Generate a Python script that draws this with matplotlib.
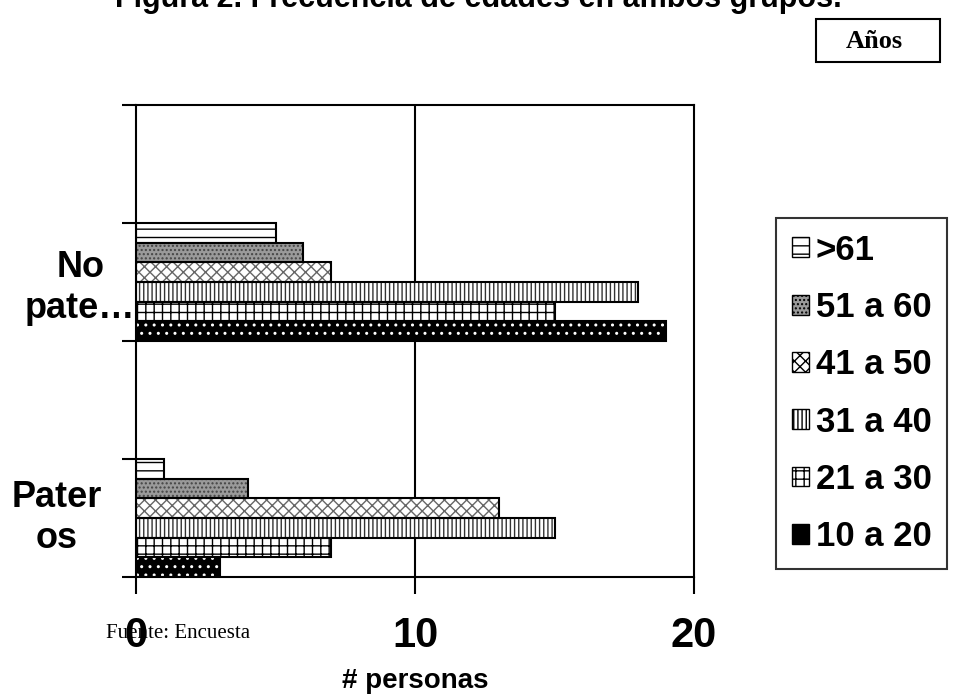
import matplotlib
matplotlib.use('Agg')
import matplotlib.pyplot as plt
from matplotlib.patches import Patch, Rectangle

plt.rcParams['font.family'] = ['Liberation Sans', 'DejaVu Sans']
plt.rcParams['hatch.linewidth'] = 1.0

groups = ['Pater\nos', 'No\npate…']
age_ranges = ['10 a 20', '21 a 30', '31 a 40', '41 a 50', '51 a 60', '>61']
counts_pateros = [3, 7, 15, 13, 4, 1]
counts_no_pateros = [19, 15, 18, 7, 6, 5]

# face colour, hatch colour, hatch pattern per age range
styles = [
    ('black', 'white', '..'),
    ('white', 'black', '++'),
    ('white', '#333333', '||||'),
    ('white', '#666666', 'xxx'),
    ('#9a9a9a', '#444444', '....'),
    ('white', 'black', '--'),
]

fig = plt.figure(figsize=(9.55, 7), dpi=100)
ax = fig.add_axes([136 / 955, 1 - 577 / 700, 558 / 955, 472 / 700])

group_pos = [0, 2]  # slot start of each group on the category axis
bar_h = 1 / 6
for i, label in enumerate(age_ranges):
    face, hcol, hatch = styles[i]
    vals = [counts_pateros[i], counts_no_pateros[i]]
    ys = [g + bar_h * (i + 0.5) for g in group_pos]
    ax.barh(ys, vals, height=bar_h, color=face, edgecolor=hcol, hatch=hatch,
            linewidth=0, zorder=2)
    ax.barh(ys, vals, height=bar_h, facecolor='none', edgecolor='black',
            linewidth=1.5, zorder=3)

ax.set_xlim(0, 20)
ax.set_ylim(0, 4)
ax.set_xticks([0, 10, 20])
ax.set_xticklabels(['0', '10', '20'], fontsize=30, fontweight='bold')
ax.set_yticks([0, 1, 2, 3, 4])
ax.set_yticklabels([])
ax.tick_params(axis='y', direction='out', length=10, width=1.5)
ax.tick_params(axis='x', direction='out', length=12, width=1.5, pad=16)
ax.axvline(10, color='black', linewidth=1.5, zorder=1)
for s in ax.spines.values():
    s.set_linewidth(1.5)

# group labels to the left of the axis
label_x = [-0.142, -0.1]
label_dy = [0.0, -0.05]
for g, name, lx, dy in zip(group_pos, groups, label_x, label_dy):
    ax.text(lx, g + 0.5 + dy, name, transform=ax.get_yaxis_transform(),
            fontsize=26, fontweight='bold', ha='center', va='center',
            multialignment='center', linespacing=1.2)

ax.set_xlabel('# personas', fontsize=20, fontweight='bold', labelpad=9)

handles = [Patch(facecolor=styles[i][0], edgecolor='black', hatch=styles[i][2],
                 linewidth=1) for i in range(len(age_ranges))]
leg = fig.legend(handles[::-1], age_ranges[::-1], loc='upper left',
                 bbox_to_anchor=(776 / 955, 1 - 218 / 700),
                 prop={'size': 25, 'weight': 'bold'}, frameon=True,
                 fancybox=False, edgecolor='black', handlelength=0.5,
                 handleheight=0.5, handletextpad=0.2, labelspacing=0.7,
                 borderpad=0.45, borderaxespad=0)
leg.get_frame().set_linewidth(1.5)

fig.text(478 / 955, 1 - 7 / 700, 'Figura 2. Frecuencia de edades en ambos grupos.',
         fontsize=22, fontweight='bold', ha='center', va='baseline')

fig.patches.append(Rectangle((816 / 955, 1 - 62 / 700), 124 / 955, 43 / 700,
                             transform=fig.transFigure, facecolor='white',
                             edgecolor='black', linewidth=1.5))
fig.text(874 / 955, 1 - 42 / 700, 'Años', fontsize=19, fontweight='bold',
         family='Liberation Serif', ha='center', va='center')

fig.text(106 / 955, 1 - 633 / 700, 'Fuente: Encuesta', fontsize=15,
         family='Liberation Serif', ha='left', va='center')

fig.savefig('out.png', dpi=100)
